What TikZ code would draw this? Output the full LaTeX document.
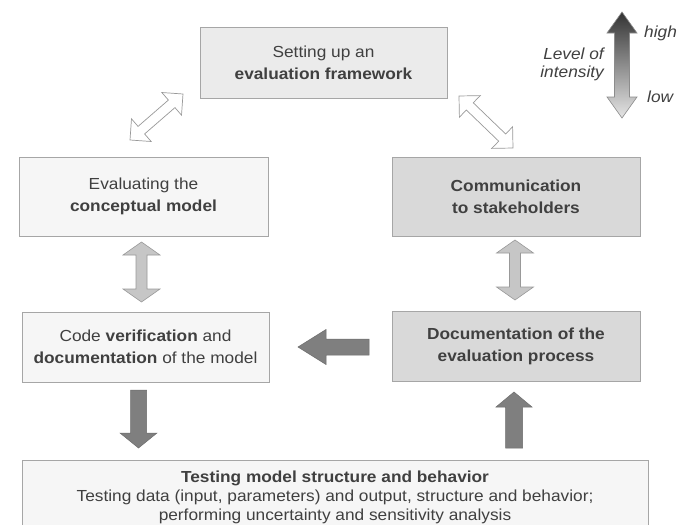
\documentclass[tikz,border=0pt]{standalone}
\usepackage{fontspec}
\setmainfont{Liberation Sans}[FakeStretch=1.08]
\usetikzlibrary{calc}
\definecolor{txt}{HTML}{404040}
\definecolor{bord}{HTML}{A6A6A6}
\definecolor{lightfill}{HTML}{F6F6F6}
\definecolor{topfill}{HTML}{EBEBEB}
\definecolor{darkfill}{HTML}{D9D9D9}
\definecolor{solidarr}{HTML}{7F7F7F}
\definecolor{midarr}{HTML}{C6C6C6}
\newcommand\dblarr[6]{% style, A, B, head length, half width, half shaft
  \draw[#1] (#2) -- ($(#2)!#4!(#3)!#5!90:(#3)$) -- ($(#2)!#4!(#3)!#6!90:(#3)$)
   -- ($(#3)!#4!(#2)!#6!-90:(#2)$) -- ($(#3)!#4!(#2)!#5!-90:(#2)$) -- (#3)
   -- ($(#3)!#4!(#2)!#5!90:(#2)$) -- ($(#3)!#4!(#2)!#6!90:(#2)$)
   -- ($(#2)!#4!(#3)!#6!-90:(#3)$) -- ($(#2)!#4!(#3)!#5!-90:(#3)$) -- cycle;}
\newcommand\sglarr[6]{% style, tail, tip, head length, half width, half shaft
  \draw[#1] ($(#2)!#6!90:(#3)$) -- ($(#3)!#4!(#2)!#6!-90:(#2)$) -- ($(#3)!#4!(#2)!#5!-90:(#2)$)
   -- (#3) -- ($(#3)!#4!(#2)!#5!90:(#2)$) -- ($(#3)!#4!(#2)!#6!90:(#2)$)
   -- ($(#2)!#6!-90:(#3)$) -- cycle;}
\tikzset{
  box/.style={draw=bord, line width=0.9pt, text=txt, align=center,
    font=\fontsize{16}{22}\selectfont, inner sep=0pt},
  lightbox/.style={box, fill=lightfill},
  topbox/.style={box, fill=topfill},
  darkbox/.style={box, fill=darkfill},
  solid arrow/.style={fill=solidarr, draw=solidarr!85!black, line width=0.5pt},
  mid arrow/.style={fill=midarr, draw=black!40, line width=0.6pt},
  open arrow/.style={fill=white, draw=black!40, line width=0.7pt},
  shaded arrow/.style={top color=black!80, bottom color=black!10, draw=black!45, line width=0.6pt},
  lbl/.style={text=txt, font=\fontsize{16}{19}\selectfont\itshape, inner sep=0pt},
}
\begin{document}
\begin{tikzpicture}[x=1pt, y=-1pt]
\clip (0,0) rectangle (689,525);
\fill[white] (0,0) rectangle (689,525);

% boxes
\node[topbox, minimum width=247pt, minimum height=71pt] (frame) at (323.5,62.5)
  {Setting up an\\\textbf{evaluation framework}};
\node[lightbox, minimum width=249pt, minimum height=79pt] (conc) at (143.5,196.5)
  {Evaluating the\\\textbf{conceptual model}};
\node[darkbox, minimum width=248pt, minimum height=79pt] (comm) at (516,196.5)
  {\textbf{Communication}\\\textbf{to stakeholders}};
\node[lightbox, minimum width=247pt, minimum height=70pt] (code) at (145.5,347)
  {Code \textbf{verification} and\\\textbf{documentation} of the model};
\node[darkbox, minimum width=248pt, minimum height=70pt] (doc) at (516,346)
  {\textbf{Documentation of the}\\\textbf{evaluation process}};
\node[lightbox, minimum width=626pt, minimum height=74pt, font=\fontsize{16}{19}\selectfont] (test) at (335,497)
  {\textbf{Testing model structure and behavior}\\Testing data (input, parameters) and output, structure and behavior;\\performing uncertainty and sensitivity analysis};

% block arrow ends
\coordinate (dlA) at (130,140);
\coordinate (dlB) at (183,94);
\coordinate (drA) at (459,96);
\coordinate (drB) at (513,148);
\coordinate (vlA) at (141.5,242);
\coordinate (vlB) at (141.5,302);
\coordinate (vrA) at (515,240);
\coordinate (vrB) at (515,300);
\coordinate (hT) at (369,347);
\coordinate (hH) at (298,347);
\coordinate (dnT) at (138.5,390);
\coordinate (dnH) at (138.5,448);
\coordinate (upT) at (514,448);
\coordinate (upH) at (514,392);
\coordinate (inA) at (622,12);
\coordinate (inB) at (622,118);

\dblarr{open arrow}{dlA}{dlB}{15pt}{15pt}{5pt}
\dblarr{open arrow}{drA}{drB}{15pt}{15pt}{5pt}
\dblarr{mid arrow}{vlA}{vlB}{13pt}{18.5pt}{5.5pt}
\dblarr{mid arrow}{vrA}{vrB}{13pt}{18.5pt}{5.5pt}
\sglarr{solid arrow}{hT}{hH}{28pt}{17.5pt}{8pt}
\sglarr{solid arrow}{dnT}{dnH}{15pt}{18.5pt}{8pt}
\sglarr{solid arrow}{upT}{upH}{15pt}{18pt}{8.5pt}
\dblarr{shaded arrow}{inA}{inB}{21pt}{15pt}{7.5pt}

% intensity labels
\node[lbl, anchor=east, align=right, font=\fontsize{16}{18}\selectfont\itshape] (lvl) at (604,64) {Level of\\intensity};
\node[lbl, anchor=west] (high) at (644,33) {high};
\node[lbl, anchor=west] (low) at (647,97) {low};
\end{tikzpicture}
\end{document}
